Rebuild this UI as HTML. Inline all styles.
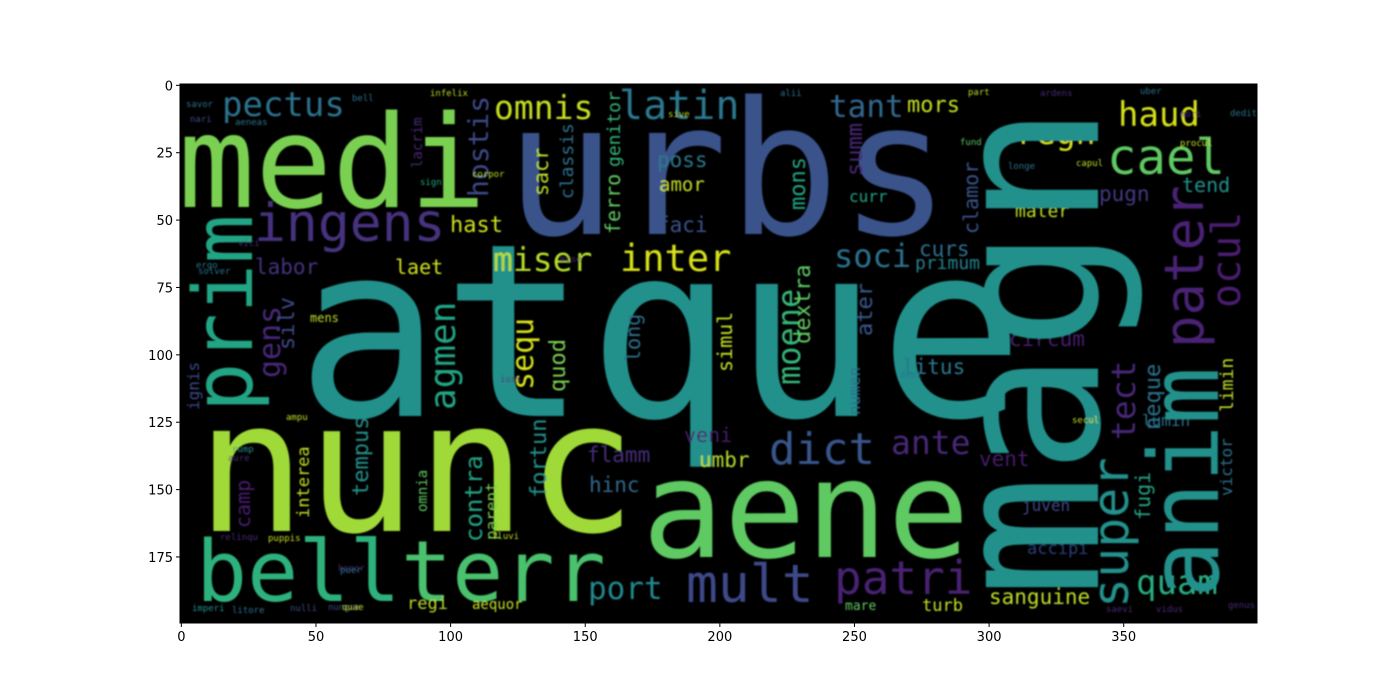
<!DOCTYPE html>
<html><head><meta charset="utf-8"><style>
html,body{margin:0;padding:0;background:#fff;}
svg{display:block;}
.tick{font-family:"DejaVu Sans","Liberation Sans",sans-serif;font-size:13px;fill:#000;}
.w{font-family:"DejaVu Sans Mono","Liberation Mono",monospace;}
</style></head><body>
<svg id="chart" width="1400" height="700" viewBox="0 0 1400 700" xmlns="http://www.w3.org/2000/svg">
<defs><filter id="soft" x="-5%" y="-5%" width="110%" height="110%"><feGaussianBlur stdDeviation="0.9"/></filter>
<clipPath id="clip"><rect x="180" y="84" width="1077" height="539"/></clipPath></defs>
<rect x="180" y="84" width="1077" height="539" fill="#000"/>
<g id="cloud" clip-path="url(#clip)" filter="url(#soft)"></g>
<rect x="180" y="84" width="1077" height="539" fill="none" stroke="#000" stroke-width="1"/>
<g id="xaxis"></g>
<g id="yaxis"></g>
</svg>
<script>
const words = ["atque","urbs","medi","nunc","aene","bell","terr","pectus","omnis","latin","tant","mors","haud","regn","cael","tend","pugn","mater","ingens","hast","faci","poss","amor","miser","inter","labor","laet","soci","curs","primum","curr","circum","litus","dict","ante","vent","veni","umbr","flamm","hinc","port","mult","patri","sanguine","quam","regi","aequor","turb","mare","accipi","juven","lumin","mens",
"prim","magn","anim","pater","ocul","super","tect","neque","fugi","limin","victor","moene","dextra","mons","summ","clamor","ater","agmen","gens","silv","hostis","lacrim","sacr","classis","ferro","genitor","sequ","quod","long","simul","tempus","camp","interea","omnia","contra","parent","fortun","ignis","numen",
"savor","bell","nari","aeneas","infelix","vici","corpor","sign","ergo","solver","mise","sive","alii","part","fund","capul","longe","ardens","uber","mori","dedit","procul","ampu","rump","aure","relinqu","puppis","fluvi","honor","puer","nulli","imperi","litore","nunque","saevi","genus","vidus","quae","iuss","deni","secul"];
const colors = ["#21918c","#3b528b","#7ad151","#a0da39","#5ec962","#2db27d","#4ac16d","#2c728e","#c8e020","#2a788e","#31688e","#c5e021","#d8e219","#d5e21a","#5ec962","#21918c","#443983","#c2df23","#46337f","#d2e21b","#3b528b","#2a788e","#c8e020","#b5de2b","#d8e219","#46337f","#d2e21b","#2c728e","#2d708e","#26828e","#20a386","#481f70","#2a788e","#39568c","#482878","#481a6c","#481f70","#b5de2b","#472d7b","#31688e","#23898e","#3e4a89","#482173","#c0df25","#26ad81","#bddf26","#c8e020","#c5e021","#5ec962","#2c3e7d","#3e4a89","#2c728e","#bddf26",
"#21a585","#21918c","#21918c","#482475","#481f70","#21918c","#482878","#2c728e","#21a585","#bddf26","#2c728e","#35b779","#5ec962","#21a585","#482878","#3b528b","#38598c","#21a585","#482878","#3e4a89","#3e4a89","#482878","#bddf26","#2c728e","#5ec962","#35b779","#d5e21a","#7ad151","#2c728e","#c5e021","#21918c","#481f70","#c5e021","#5ec962","#21a585","#7ad151","#21918c","#3e4a89","#2c728e",
"#2c728e","#2c728e","#3e4a89","#2c728e","#bddf26","#482878","#bddf26","#21a585","#2c728e","#2c728e","#482878","#bddf26","#2c728e","#bddf26","#5ec962","#bddf26","#2c728e","#482878","#2c728e","#482878","#2c728e","#c5e021","#bddf26","#21918c","#482878","#482878","#c5e021","#bddf26","#482878","#2c728e","#3e4a89","#21918c","#2c728e","#3e4a89","#482878","#482878","#482878","#bddf26","#482878","#2c728e","#bddf26"];
const sizes = [242,185,128,183,136,85,85,34,33,40,31,22,34,33,49,20,21,18,53,22,21,21,19,33,37,21,20,32,21,18,16,21,21,44,33,21,20,21,21,21,31,53,46,21,34,17,14,17,13,17,16,16,12,
82,205,96,54,40,50,33,22,20,18,16,32,22,22,22,20,22,36,30,22,28,14,20,18,20,18,30,22,20,20,22,20,17,14,24,16,22,16,16,
9,9,9,9,9,9,9,9,9,9,9,9,9,9,9,9,9,9,9,9,9,9,9,9,9,9,9,9,9,9,9,9,9,9,9,9,9,9,9,9,9];
const xs = [296,505,178,196,642,196,401,222,494,619,829,907,1118,1016,1107,1182,1099,1015,254,450,657,657,659,493,620,255,395,834,919,915,849,1009,902,769,891,979,684,699,587,589,588,686,834,989,1136,407,472,922,845,1027,1022,1142,310,
252,1098,1218,1203,1240,1128,1135,1160,1150,1233,1232,800,810,805,862,978,872,455,280,294,488,422,548,573,620,620,533,565,640,732,368,250,309,427,482,497,546,199,860,
186,352,190,235,430,238,472,420,196,198,560,668,780,968,960,1076,1008,1040,1140,1180,1230,1180,286,232,228,220,268,492,338,340,290,192,232,328,1106,1228,1156,342,500,900,1072];
const ys = [416,234,207,531,557,601,601,116,119,119,117,112,126,144,174,192,201,217,241,232,232,167,191,271,271,274,274,267,256,269,202,346,374,464,454,466,442,467,462,492,599,602,594,604,594,609,609,611,610,554,511,426,322,
412,598,598,348,308,608,440,430,520,412,496,385,344,210,176,234,336,410,378,350,197,168,196,199,234,167,390,392,362,372,496,528,518,512,542,540,498,410,415,
107,101,122,125,96,246,177,185,268,274,262,117,96,95,145,166,169,96,94,117,116,146,420,452,461,540,541,539,571,573,611,611,613,610,612,608,612,610,382,378,423];
const rots = [0,0,0,0,0,0,0,0,0,0, 0,0,0,0,0,0,0,0,0,0, 0,0,0,0,0,0,0,0,0,0, 0,0,0,0,0,0,0,0,0,0, 0,0,0,0,0,0,0,0,0,0, 0,0,0,
1,1,1,1,1,1,1,1,1,1, 1,1,1,1,1,1,1,1,1,1, 1,1,1,1,1,1,1,1,1,1, 1,1,1,1,1,1,1,1,1,
0,0,0,0,0,0,0,0,0,0, 0,0,0,0,0,0,0,0,0,0, 0,0,0,0,0,0,0,0,0,0, 0,0,0,0,0,0,0,0,0,0, 0];
const xTicks = [0,50,100,150,200,250,300,350];
const yTicks = [0,25,50,75,100,125,150,175];

const NS = "http://www.w3.org/2000/svg";
const L = 180, T = 84, PW = 1077, PH = 539, IW = 400, IH = 200;
const sx = v => L + (v + 0.5) * PW / IW;
const sy = v => T + (v + 0.5) * PH / IH;

const cloud = document.getElementById('cloud');
for (let i = 0; i < words.length; i++) {
  const t = document.createElementNS(NS, 'text');
  t.setAttribute('class', 'w');
  t.setAttribute('font-size', sizes[i]);
  t.setAttribute('fill', colors[i]);
  if (rots[i]) {
    t.setAttribute('transform', 'translate(' + xs[i] + ',' + ys[i] + ') rotate(-90)');
    t.setAttribute('x', 0); t.setAttribute('y', 0);
  } else {
    t.setAttribute('x', xs[i]); t.setAttribute('y', ys[i]);
  }
  t.textContent = words[i];
  
  
  cloud.appendChild(t);
}

const xa = document.getElementById('xaxis');
xTicks.forEach(v => {
  const x = sx(v);
  const ln = document.createElementNS(NS, 'line');
  ln.setAttribute('x1', x); ln.setAttribute('x2', x);
  ln.setAttribute('y1', T + PH); ln.setAttribute('y2', T + PH + 4);
  ln.setAttribute('stroke', '#000');
  
  
  xa.appendChild(ln);
  const tx = document.createElementNS(NS, 'text');
  tx.setAttribute('class', 'tick');
  tx.setAttribute('x', x); tx.setAttribute('y', T + PH + 18);
  tx.setAttribute('text-anchor', 'middle');
  tx.textContent = v;
  
  
  xa.appendChild(tx);
});
const ya = document.getElementById('yaxis');
yTicks.forEach(v => {
  const y = sy(v);
  const ln = document.createElementNS(NS, 'line');
  ln.setAttribute('x1', L - 4); ln.setAttribute('x2', L);
  ln.setAttribute('y1', y); ln.setAttribute('y2', y);
  ln.setAttribute('stroke', '#000');
  
  
  ya.appendChild(ln);
  const tx = document.createElementNS(NS, 'text');
  tx.setAttribute('class', 'tick');
  tx.setAttribute('x', L - 7); tx.setAttribute('y', y + 5);
  tx.setAttribute('text-anchor', 'end');
  tx.textContent = v;
  
  
  ya.appendChild(tx);
});
</script>
</body></html>
